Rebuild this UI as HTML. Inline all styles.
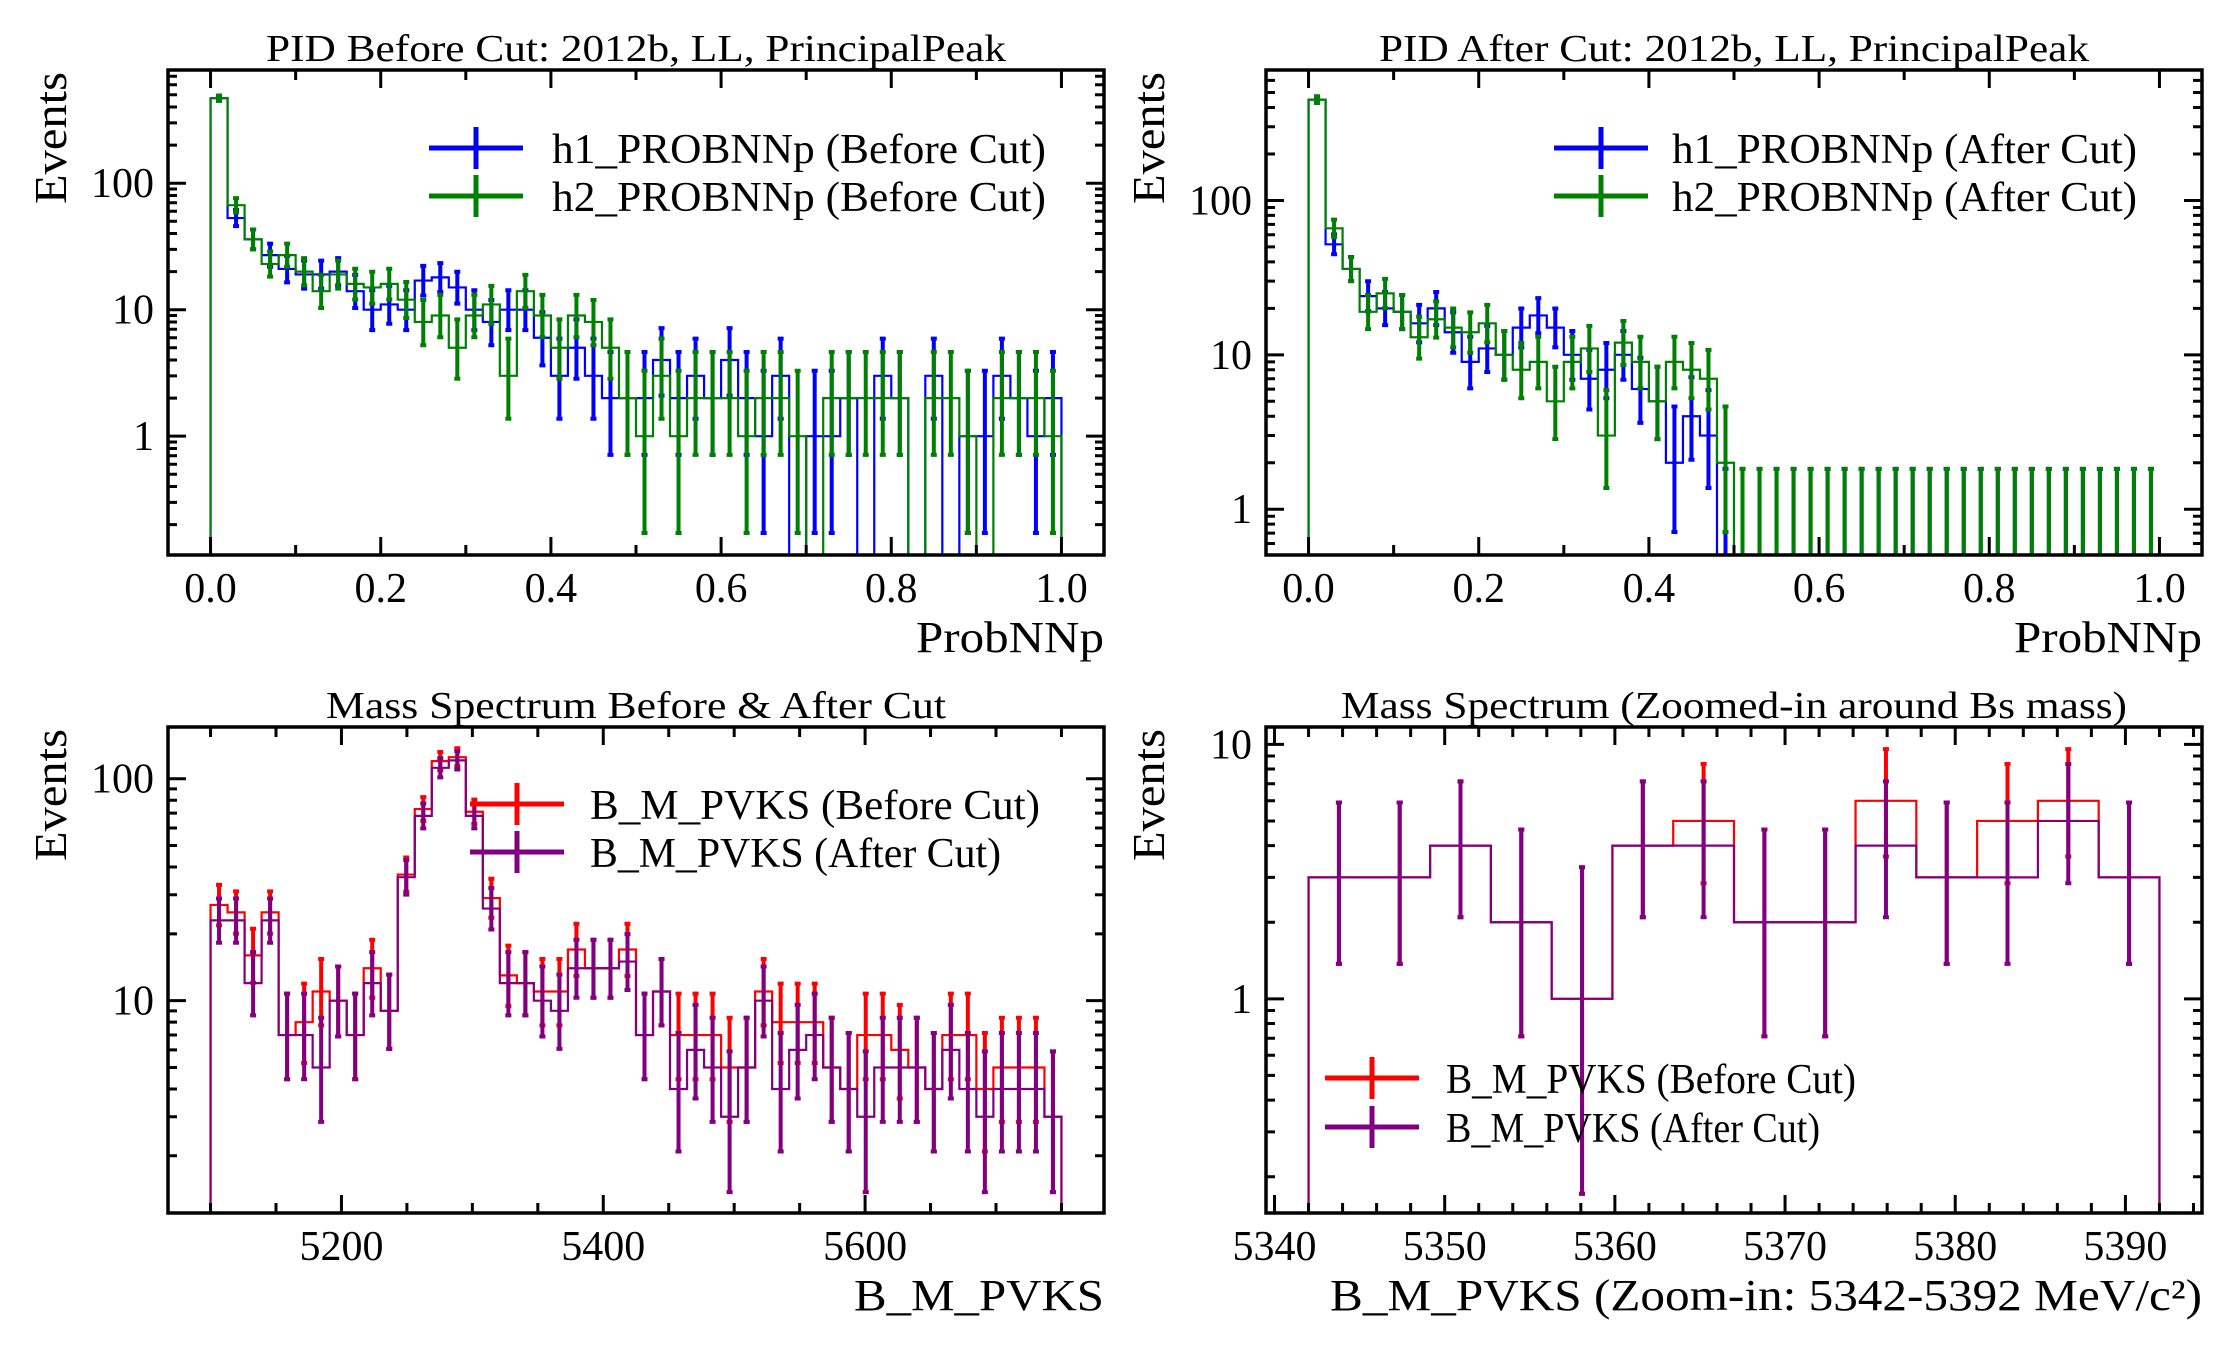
<!DOCTYPE html>
<html><head><meta charset="utf-8"><style>
html,body{margin:0;padding:0;background:#fff;}
svg{display:block;font-family:"Liberation Serif","DejaVu Serif",serif;}
</style></head><body>
<svg id="fig" xmlns="http://www.w3.org/2000/svg" width="2231" height="1350" viewBox="0 0 2231 1350"></svg>
<script>
// ---------- data ----------
const pidBins = 50;
const h1Before = [470,53,36,27,21,19,19,20,14,10,11,10,17,18,15,10,8,10,10,6,3,5,3,2,2,2,4,2,3,2,4,2,1,3,0,1,1,2,0,3,2,0,3,0,1,1,3,2,1,2];
const h2Before = [470,67,36,23,27,20,14,19,16,15,16,12,8,9,5,9,11,3,14,9,5,9,8,5,2,1,3,1,2,2,2,1,2,2,1,0,2,2,2,2,2,0,2,2,1,0,2,2,2,1];
const h1After = [450,52,36,24,20,19,16,20,14,9,11,10,15,18,15,10,7,8,10,6,5,2,4,3,0,0,0,0,0,0,0,0,0,0,0,0,0,0,0,0,0,0,0,0,0,0,0,0,0,0];
const h2After = [450,66,36,19,25,19,13,17,15,14,16,10,8,9,5,9,11,3,12,9,5,9,8,7,2,0,0,0,0,0,0,0,0,0,0,0,0,0,0,0,0,0,0,0,0,0,0,0,0,0];
const massBefore = [27,25,16,25,7,8,11,10,7,14,9,37,73,120,125,71,29,13,12,11,11,17,14,14,17,7,11,7,7,7,5,5,11,8,8,8,5,4,7,7,6,5,4,7,7,4,5,5,5,3];
const massAfter = [23,23,12,23,7,7,5,10,7,12,9,36,68,112,121,68,26,12,12,10,9,14,14,14,15,7,11,4,6,5,3,5,10,4,6,7,5,4,3,5,5,5,4,6,4,3,4,4,4,3];
const zoomBefore = [3,3,4,2,1,4,5,2,2,6,3,5,6,3];
const zoomAfter = [3,3,4,2,1,4,4,2,2,4,3,3,5,3];
const pidTickLabels = ["0.0","0.2","0.4","0.6","0.8","1.0"];
const massTickLabels = ["5200","5400","5600"];
const zoomTickLabels = ["5340","5350","5360","5370","5380","5390"];

// ---------- helpers ----------
const NS = "http://www.w3.org/2000/svg";
const svg = document.getElementById("fig");
function mk(tag, attrs, parent){
  const e = document.createElementNS(NS, tag);
  for (const k in attrs) e.setAttribute(k, attrs[k]);
  (parent||svg).appendChild(e);
  return e;
}
function poisLo(n){ if(n<=0) return 0; return n*Math.pow(1-1/(9*n)-1/(3*Math.sqrt(n)),3); }
function poisHi(n){ const m=n+1; return m*Math.pow(1-1/(9*m)+1/(3*Math.sqrt(m)),3); }

function makePanel(cfg){
  const p = cfg;
  p.sx = v => p.x0 + (v-p.xmin)/(p.xmax-p.xmin)*(p.x1-p.x0);
  const lmin=Math.log10(p.ymin), lmax=Math.log10(p.ymax);
  p.sy = v => v<=0 ? p.y1+20 : p.y1 - (Math.log10(v)-lmin)/(lmax-lmin)*(p.y1-p.y0);
  const g = mk("g",{});
  
  
  p.g = g;
  const cid = "clip-"+p.name;
  const defs = mk("defs",{},g);
  const cp = mk("clipPath",{id:cid},defs);
  mk("rect",{x:p.x0,y:p.y0,width:p.x1-p.x0,height:p.y1-p.y0},cp);
  p.plot = mk("g",{"clip-path":"url(#"+cid+")"},g);
  
  
  return p;
}

function drawHist(p, vals, lo, hi, color, nm, zeroBars){
  const n = vals.length, w=(hi-lo)/n;
  let d = "M"+p.sx(lo)+","+(p.y1+20);
  for(let i=0;i<n;i++){
    const y=p.sy(vals[i]);
    d += " L"+p.sx(lo+i*w)+","+y+" L"+p.sx(lo+(i+1)*w)+","+y;
  }
  d += " L"+p.sx(hi)+","+(p.y1+20);
  const path = mk("path",{d:d,fill:"none",stroke:color,"stroke-width":2.2},p.plot);
  
  
  for(let i=0;i<n;i++){
    const v=vals[i];
    if(v<=0 && !zeroBars) continue;
    const cx=p.sx(lo+(i+0.5)*w);
    const ya=p.sy(poisHi(v)), yb=v<=0?p.y1+20:p.sy(poisLo(v));
    const eb = mk("path",{d:"M"+cx+","+yb+" L"+cx+","+ya+" M"+(cx-3)+","+ya+" L"+(cx+3)+","+ya+" M"+(cx-3)+","+yb+" L"+(cx+3)+","+yb,stroke:color,"stroke-width":4,fill:"none"},p.plot);
    
    
  }
}

function drawAxes(p, majors, majorLabels, minors, yLabels, title, xlabel){
  const g=p.g;
  // ticks x
  let d="";
  majors.forEach(v=>{const x=p.sx(v); d+="M"+x+","+p.y1+" v-18 M"+x+","+p.y0+" v18 ";});
  minors.forEach(v=>{const x=p.sx(v); d+="M"+x+","+p.y1+" v-10 M"+x+","+p.y0+" v10 ";});
  // ticks y (log)
  const d0=Math.floor(Math.log10(p.ymin)), d1=Math.ceil(Math.log10(p.ymax));
  for(let e=d0;e<=d1;e++){
    for(let k=1;k<10;k++){
      const v=k*Math.pow(10,e);
      if(v<p.ymin||v>p.ymax) continue;
      const y=p.sy(v), L=(k===1)?18:9;
      d+="M"+p.x0+","+y+" h"+L+" M"+p.x1+","+y+" h-"+L+" ";
    }
  }
  const tk = mk("path",{d:d,stroke:"#000","stroke-width":3,fill:"none"},g);
  
  
  const fr = mk("rect",{x:p.x0,y:p.y0,width:p.x1-p.x0,height:p.y1-p.y0,fill:"none",stroke:"#000","stroke-width":3.5},g);
  
  
  majorLabels.forEach(s=>{
    const t=mk("text",{x:p.sx(parseFloat(s)),y:p.y1+47,"text-anchor":"middle","font-size":42},g);
    t.textContent=s;
    
    
  });
  yLabels.forEach(s=>{
    const t=mk("text",{x:p.x0-14,y:p.sy(parseFloat(s))+14,"text-anchor":"end","font-size":42},g);
    t.textContent=s;
    
    
  });
  const tt=mk("text",{x:(p.x0+p.x1)/2,y:p.y0-9,"text-anchor":"middle","font-size":38,textLength:p.titleW,lengthAdjust:"spacingAndGlyphs"},g);
  tt.textContent=title;
  
  
  const xl=mk("text",{x:p.x1,y:p.y1+97,"text-anchor":"end","font-size":44,textLength:p.xlabW,lengthAdjust:"spacingAndGlyphs"},g);
  xl.textContent=xlabel;
  
  
  const yl=mk("text",{x:0,y:0,"text-anchor":"end","font-size":46,transform:"translate("+(p.x0-102)+","+(p.y0+2)+") rotate(-90)",textLength:132,lengthAdjust:"spacingAndGlyphs"},g);
  yl.textContent="Events";
  
  
}

function drawLegend(p, items, mx, tx, ys, tw){
  items.forEach((it,i)=>{
    const y=ys[i];
    const lg=mk("g",{},p.g);
    
    
    mk("path",{d:"M"+mx+","+y+" h94 M"+(mx+47)+","+(y-21)+" v42",stroke:it.c,"stroke-width":5,fill:"none"},lg);
    const t=mk("text",{x:tx,y:y+15,"font-size":42,textLength:tw[i],lengthAdjust:"spacingAndGlyphs"},lg);
    t.textContent=it.t;
  });
}

function range(a,b,s){const r=[];for(let v=a;v<=b+1e-9;v+=s)r.push(Math.round(v*1000)/1000);return r;}

// ---------- panel 1 ----------
const p1=makePanel({name:"pid-before-panel",x0:168,x1:1104,y0:70,y1:555,xmin:-0.05,xmax:1.05,ymin:0.115,ymax:785,titleW:740,xlabW:188});
drawHist(p1,h1Before,0,1,"#0000ff","h1-before",false);
drawHist(p1,h2Before,0,1,"#008000","h2-before",false);
drawAxes(p1,range(0,1,0.2),pidTickLabels,range(0.1,0.9,0.2).concat([-0.05+0.05]),["100","10","1"],"PID Before Cut: 2012b, LL, PrincipalPeak","ProbNNp");
drawLegend(p1,[{c:"#0000ff",t:"h1_PROBNNp (Before Cut)"},{c:"#008000",t:"h2_PROBNNp (Before Cut)"}],429,552,[148,196],[494,494]);

// ---------- panel 2 ----------
const p2=makePanel({name:"pid-after-panel",x0:1266,x1:2202,y0:70,y1:555,xmin:-0.05,xmax:1.05,ymin:0.505,ymax:700,titleW:710,xlabW:188});
drawHist(p2,h1After,0,1,"#0000ff","h1-after",true);
drawHist(p2,h2After,0,1,"#008000","h2-after",true);
drawAxes(p2,range(0,1,0.2),pidTickLabels,range(0.1,0.9,0.2),["100","10","1"],"PID After Cut: 2012b, LL, PrincipalPeak","ProbNNp");
drawLegend(p2,[{c:"#0000ff",t:"h1_PROBNNp (After Cut)"},{c:"#008000",t:"h2_PROBNNp (After Cut)"}],1554,1672,[148,196],[465,465]);

// ---------- panel 3 ----------
const p3=makePanel({name:"mass-spectrum-panel",x0:168,x1:1104,y0:727,y1:1213,xmin:5067.5,xmax:5782.5,ymin:1.105,ymax:171,titleW:620,xlabW:250});
drawHist(p3,massBefore,5100,5750,"#ff0000","mass-before",false);
drawHist(p3,massAfter,5100,5750,"#800080","mass-after",false);
drawAxes(p3,[5200,5400,5600],massTickLabels,[5100,5150,5250,5300,5350,5450,5500,5550,5650,5700,5750],["100","10"],"Mass Spectrum Before & After Cut","B_M_PVKS");
drawLegend(p3,[{c:"#ff0000",t:"B_M_PVKS (Before Cut)"},{c:"#800080",t:"B_M_PVKS (After Cut)"}],470,590,[804,852],[450,411]);

// ---------- panel 4 ----------
const p4=makePanel({name:"mass-zoom-panel",x0:1266,x1:2202,y0:727,y1:1213,xmin:5339.5,xmax:5394.5,ymin:0.144,ymax:11.7,titleW:786,xlabW:872});
drawHist(p4,zoomBefore,5342,5392,"#ff0000","zoom-before",false);
drawHist(p4,zoomAfter,5342,5392,"#800080","zoom-after",false);
drawAxes(p4,[5340,5350,5360,5370,5380,5390],zoomTickLabels,range(5342,5394,2).filter(v=>v%10!==0),["10","1"],"Mass Spectrum (Zoomed-in around Bs mass)","B_M_PVKS (Zoom-in: 5342-5392 MeV/c²)");
drawLegend(p4,[{c:"#ff0000",t:"B_M_PVKS (Before Cut)"},{c:"#800080",t:"B_M_PVKS (After Cut)"}],1325,1446,[1078,1127],[410,374]);
</script>
</body></html>
